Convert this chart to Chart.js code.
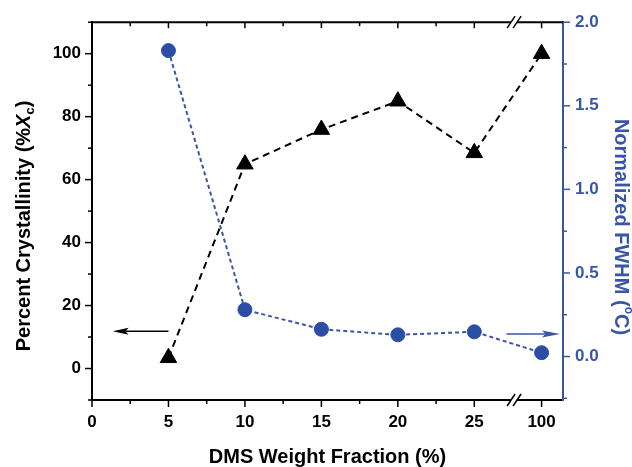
<!DOCTYPE html>
<html><head><meta charset="utf-8">
<script src="https://cdn.jsdelivr.net/npm/chart.js@4/dist/chart.umd.min.js"></script>
<style>html,body{margin:0;padding:0;background:#fff}</style>
</head><body>
<canvas id="c" width="632" height="467"></canvas>
<script>
// ---- data ----
const xValues = [5, 10, 15, 20, 25, 100];
const crystallinity = [3.4, 64.9, 75.9, 84.9, 68.5, 100];
const fwhm = [1.83, 0.28, 0.163, 0.13, 0.148, 0.023];
const xTickValues = [0, 5, 10, 15, 20, 25, 100];
const xMinorValues = [2.5, 7.5, 12.5, 17.5, 22.5];
const leftTickValues = [0, 20, 40, 60, 80, 100];
const leftMinorValues = [-10, 10, 30, 50, 70, 90, 110];
const rightTickValues = [0, 0.5, 1.0, 1.5, 2.0];
const rightMinorValues = [-0.25, 0.25, 0.75, 1.25, 1.75];
const leftArrowX = [5, 1.35];   const leftArrowY = 11.8;   // on left axis
const rightArrowX = [27.1, 30.6]; const rightArrowY = 0.135; // on right axis

// axis break: values above 25 go to a compressed slot
const xBreakAfter = 25, breakSlot = 29.4, breakMark = 27.6;
function slot(v){ return v > xBreakAfter ? breakSlot : v; }

const BLUE = '#2c4da6';
const AXBLUE = '#3a55a6';
const FONT = "'Liberation Sans', Arial, sans-serif";

const framePlugin = {
  id: 'frame',
  afterDatasetsDraw(chart){
    const {ctx, scales} = chart;
    const x = scales.x, yl = scales.yL, yr = scales.yR;
    function arrow(x0, x1, y, color, headLen, headHalf){
      ctx.save();
      ctx.strokeStyle = color; ctx.fillStyle = color; ctx.lineWidth = 1.5;
      const dir = Math.sign(x1 - x0);
      ctx.beginPath(); ctx.moveTo(x0, y); ctx.lineTo(x1 - dir*headLen*0.8, y); ctx.stroke();
      ctx.beginPath(); ctx.moveTo(x1, y); ctx.lineTo(x1 - dir*headLen, y - headHalf);
      ctx.lineTo(x1 - dir*headLen*0.8, y); ctx.lineTo(x1 - dir*headLen, y + headHalf); ctx.closePath(); ctx.fill();
      ctx.restore();
    }
    arrow(x.getPixelForValue(leftArrowX[0]), x.getPixelForValue(leftArrowX[1]), yl.getPixelForValue(leftArrowY), '#000', 16, 3.5);
    arrow(x.getPixelForValue(rightArrowX[0]), x.getPixelForValue(rightArrowX[1]), yr.getPixelForValue(rightArrowY), AXBLUE, 18, 3.5);
  },
  afterDraw(chart){
    const {ctx, chartArea: a, scales} = chart;
    const x = scales.x, yl = scales.yL, yr = scales.yR;
    ctx.save();
    ctx.lineCap = 'butt';
    ctx.strokeStyle = '#000'; ctx.lineWidth = 2;
    ctx.beginPath(); ctx.moveTo(a.left - 1, a.top); ctx.lineTo(a.right, a.top); ctx.stroke();
    function tick(px, py, dx, dy){ ctx.beginPath(); ctx.moveTo(px, py); ctx.lineTo(px + dx, py + dy); ctx.stroke(); }
    ctx.lineWidth = 1.5;
    xTickValues.forEach(v => { const p = x.getPixelForValue(slot(v)); tick(p, a.bottom, 0, 7); tick(p, a.top, 0, 6); });
    xMinorValues.forEach(v => { const p = x.getPixelForValue(v); tick(p, a.bottom, 0, 4); tick(p, a.top, 0, 4); });
    leftTickValues.forEach(v => tick(a.left, yl.getPixelForValue(v), -7, 0));
    leftMinorValues.forEach(v => tick(a.left, yl.getPixelForValue(v), -4, 0));
    ctx.strokeStyle = AXBLUE;
    rightTickValues.forEach(v => tick(a.right, yr.getPixelForValue(v), 7, 0));
    rightMinorValues.forEach(v => tick(a.right, yr.getPixelForValue(v), 4, 0));
    // axis break marks
    const bx = x.getPixelForValue(breakMark);
    [a.top, a.bottom].forEach(by => {
      ctx.fillStyle = '#fff'; ctx.fillRect(bx - 3, by - 2, 6, 4);
      ctx.strokeStyle = '#000'; ctx.lineWidth = 1.5;
      tick(bx - 3 - 4, by + 6, 8, -12);
      tick(bx + 3 - 4, by + 6, 8, -12);
    });
    // titles
    function drawPieces(pieces){
      let total = 0;
      pieces.forEach(p => { ctx.font = p.font; p.w = ctx.measureText(p.t).width; total += p.w; });
      let cx = -total / 2;
      ctx.textAlign = 'left'; ctx.textBaseline = 'middle';
      pieces.forEach(p => { ctx.font = p.font; ctx.fillText(p.t, cx, p.dy || 0); cx += p.w; });
    }
    const B = "bold 20px " + FONT;
    ctx.fillStyle = '#000';
    ctx.save(); ctx.translate(24, 226); ctx.rotate(-Math.PI/2);
    drawPieces([{t:'Percent Crystallinity (%', font:B}, {t:'X', font:"italic bold 20px " + FONT}, {t:'c', font:"bold 13px " + FONT, dy:6}, {t:')', font:B}]);
    ctx.restore();
    ctx.fillStyle = AXBLUE;
    ctx.save(); ctx.translate(621, 227); ctx.rotate(Math.PI/2);
    drawPieces([{t:'Normalized FWHM (', font:B}, {t:'o', font:"bold 12px " + FONT, dy:-7}, {t:'C)', font:B}]);
    ctx.restore();
    ctx.fillStyle = '#000';
    ctx.save(); ctx.translate((a.left + a.right)/2, 457);
    drawPieces([{t:'DMS Weight Fraction (%)', font:B}]);
    ctx.restore();
    ctx.restore();
  }
};

new Chart(document.getElementById('c'), {
  type: 'line',
  data: {
    datasets: [
      {
        label: 'Percent Crystallinity',
        data: xValues.map((v, i) => ({x: slot(v), y: crystallinity[i]})),
        yAxisID: 'yL',
        borderColor: '#000', backgroundColor: '#000', borderWidth: 2,
        borderDash: [7, 5],
        pointStyle: 'triangle', pointRadius: 9.5, pointBorderWidth: 1,
        pointBackgroundColor: '#000', pointBorderColor: '#000'
      },
      {
        label: 'Normalized FWHM',
        data: xValues.map((v, i) => ({x: slot(v), y: fwhm[i]})),
        yAxisID: 'yR',
        borderColor: AXBLUE, backgroundColor: BLUE, borderWidth: 2,
        borderDash: [4, 3],
        pointStyle: 'circle', pointRadius: 7, pointBorderWidth: 1,
        pointBackgroundColor: BLUE, pointBorderColor: BLUE
      }
    ]
  },
  options: {
    responsive: false, animation: false, devicePixelRatio: 1,
    layout: { padding: { top: 22, left: 0, right: 0, bottom: 0 } },
    plugins: { legend: { display: false }, tooltip: { enabled: false } },
    elements: { line: { tension: 0 } },
    scales: {
      x: {
        type: 'linear', position: 'bottom', min: 0, max: 30.8,
        afterBuildTicks: s => { s.ticks = xTickValues.map(v => ({value: slot(v)})); },
        afterFit: s => { s.height = 67; },
        ticks: { callback: v => (v === breakSlot ? '100' : String(v)), color: '#000', font: {family: FONT, size: 17, weight: 'bold'}, padding: 12, maxRotation: 0, autoSkip: false },
        grid: { display: false, drawTicks: false },
        border: { display: true, color: '#000', width: 2 }
      },
      yL: {
        type: 'linear', position: 'left', min: -10, max: 110,
        afterBuildTicks: s => { s.ticks = leftTickValues.map(v => ({value: v})); },
        afterFit: s => { s.width = 92; },
        ticks: { color: '#000', font: {family: FONT, size: 17, weight: 'bold'}, padding: 11 },
        grid: { display: false, drawTicks: false },
        border: { display: true, color: '#000', width: 2 }
      },
      yR: {
        type: 'linear', position: 'right', min: -0.26, max: 2.0,
        afterBuildTicks: s => { s.ticks = rightTickValues.map(v => ({value: v})); },
        afterFit: s => { s.width = 69; },
        ticks: { callback: v => v.toFixed(1), color: AXBLUE, font: {family: FONT, size: 17, weight: 'bold'}, padding: 12 },
        grid: { display: false, drawTicks: false },
        border: { display: true, color: AXBLUE, width: 2 }
      }
    }
  },
  plugins: [framePlugin]
});
</script>
</body></html>
